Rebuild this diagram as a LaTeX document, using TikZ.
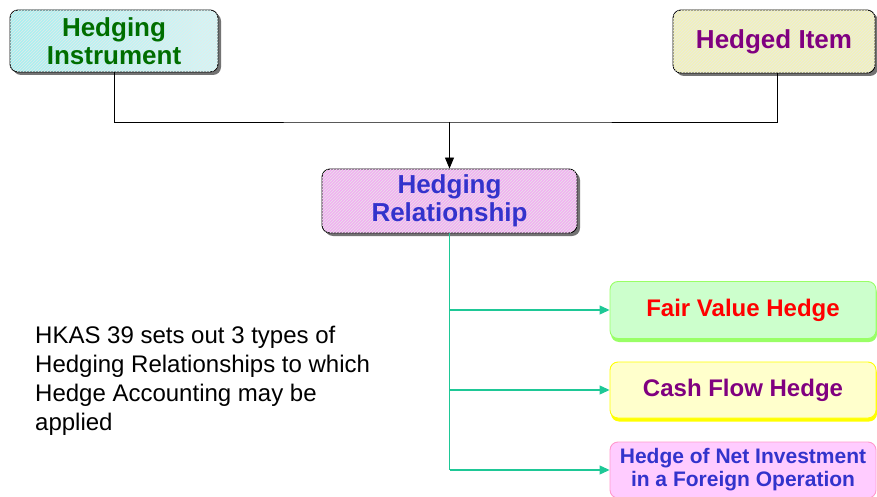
\documentclass[tikz,border=0pt]{standalone}
\usepackage{fontspec}
\setmainfont{Liberation Sans}
\usetikzlibrary{arrows.meta,patterns,shadows}
\definecolor{hgreen}{RGB}{0,110,0}
\definecolor{hpurple}{RGB}{128,0,128}
\definecolor{hblue}{RGB}{51,51,204}
\definecolor{hred}{RGB}{255,0,0}
\definecolor{teal1}{RGB}{30,200,150}
\definecolor{cyanA}{RGB}{165,240,240}
\definecolor{yelA}{RGB}{242,242,185}
\definecolor{pinkA}{RGB}{242,175,242}
\definecolor{fvfill}{RGB}{204,255,204}
\definecolor{fvline}{RGB}{153,255,102}
\definecolor{cffill}{RGB}{255,255,204}
\definecolor{cfline}{RGB}{255,255,0}
\definecolor{hnfill}{RGB}{255,204,255}
\definecolor{hnline}{RGB}{255,153,204}
\tikzset{
  topbox/.style={draw=black, line width=0.9pt, rounded corners=8pt,
    drop shadow={shadow xshift=3pt, shadow yshift=-3pt, fill=black!55, opacity=1},
    shade, postaction={pattern=north east lines, pattern color=black!9},
    align=center, font=\fontsize{26}{28.5}\selectfont\bfseries, inner sep=0pt},
  typebox/.style={rounded corners=8pt, line width=0.9pt, align=center, inner sep=0pt,
    minimum width=266pt},
  conn/.style={draw=black, line width=0.9pt},
  gconn/.style={draw=teal1, line width=1.1pt},
  garrow/.style={gconn, -{Triangle[length=10pt,width=9pt]}},
}
\begin{document}
\begin{tikzpicture}[x=1pt,y=-1pt]
\useasboundingbox (0,0) rectangle (877,497);
% top boxes
\node[topbox, left color=cyanA, middle color=white!95!black, right color=cyanA!50,
  minimum width=208pt, minimum height=62pt, text=hgreen] (hi) at (114,41) {Hedging\\Instrument};
\node[topbox, left color=yelA, middle color=white!95!black, right color=yelA,
  minimum width=202pt, minimum height=63pt, text=hpurple] (hitem) at (774,41.5) {Hedged Item};
\node[topbox, left color=pinkA, middle color=white!95!black, right color=pinkA,
  minimum width=255pt, minimum height=64pt, text=hblue] (hr) at (449.5,201) {Hedging\\Relationship};
% type boxes
\node[typebox, draw=fvline, fill=fvfill,
  general shadow={shadow xshift=1pt, shadow yshift=-3.5pt, fill=fvline, opacity=1},
  minimum height=57pt, text=hred, font=\fontsize{24}{26}\selectfont\bfseries] (fv) at (743,310) {Fair Value Hedge};
\node[typebox, draw=cfline, fill=cffill,
  general shadow={shadow xshift=1pt, shadow yshift=-3.5pt, fill=cfline, opacity=1},
  minimum height=56pt, text=hpurple, font=\fontsize{24}{26}\selectfont\bfseries] (cf) at (743,390) {Cash Flow Hedge};
\node[typebox, draw=hnline, fill=hnfill,
  minimum height=56pt, text=hblue, font=\fontsize{21}{23}\selectfont\bfseries] (hn) at (743,470) {Hedge of Net Investment\\in a Foreign Operation};
% text
\node[anchor=base west, align=left, inner sep=0pt, font=\fontsize{24}{29}\selectfont] (txt) at (35,430)
  {HKAS 39 sets out 3 types of\\Hedging Relationships to which\\Hedge Accounting may be\\applied};
% connectors
\coordinate (bar) at (449.5,122);
\draw[conn] (hi.south) |- (bar) -| ([xshift=3pt]hitem.south);
\draw[conn, -{Triangle[length=11pt,width=9pt]}] (bar) -- (hr.north);
\draw[gconn] (hr.south) -- (hr.south |- hn.west);
\draw[garrow] (hr.south |- fv.west) -- (fv.west);
\draw[garrow] (hr.south |- cf.west) -- (cf.west);
\draw[garrow] (hr.south |- hn.west) -- (hn.west);
\end{tikzpicture}
\end{document}
